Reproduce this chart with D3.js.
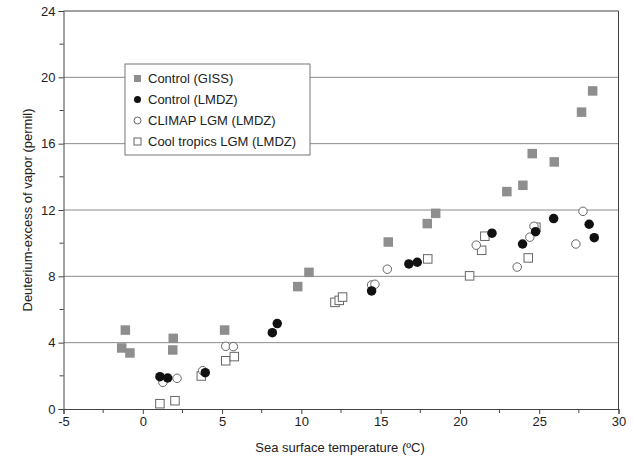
<!DOCTYPE html>
<html>
<head>
<meta charset="utf-8">
<script src="https://cdn.jsdelivr.net/npm/d3@7"></script>
<style>
  body { margin: 0; background: #fff; }
  svg { display: block; font-family: "Liberation Sans", Arial, sans-serif; }
</style>
</head>
<body>
<svg id="chart"></svg>
<script>
// values
let gissX = [-1.33, -1.10, -0.81, 1.89, 1.92, 5.16, 9.77, 10.48, 15.48, 17.94, 18.47, 22.96, 23.97, 24.56, 25.95, 27.67, 28.37]
let gissY = [3.68, 4.76, 3.38, 3.56, 4.26, 4.76, 7.38, 8.24, 10.07, 11.18, 11.80, 13.11, 13.49, 15.40, 14.90, 17.90, 19.18]

let lmdzX = [1.08, 1.57, 3.94, 8.17, 8.48, 14.43, 16.78, 17.31, 22.02, 23.95, 24.77, 25.91, 28.15, 28.47]
let lmdzY = [1.95, 1.87, 2.19, 4.60, 5.15, 7.12, 8.75, 8.85, 10.60, 9.95, 10.69, 11.48, 11.14, 10.33]

let climapX = [1.27, 2.16, 3.78, 5.23, 5.71, 14.43, 14.64, 15.42, 21.03, 23.61, 24.41, 24.67, 27.31, 27.76]
let climapY = [1.61, 1.85, 2.31, 3.78, 3.76, 7.48, 7.52, 8.43, 9.88, 8.56, 10.36, 11.02, 9.95, 11.92]

let coolX = [1.08, 2.03, 3.69, 5.23, 5.77, 12.12, 12.39, 12.60, 17.97, 20.61, 21.37, 21.57, 24.31, 24.79]
let coolY = [0.32, 0.50, 1.99, 2.91, 3.16, 6.43, 6.55, 6.75, 9.05, 8.03, 9.57, 10.42, 9.11, 10.96]

let seriesNames = ['Control (GISS)', 'Control (LMDZ)', 'CLIMAP LGM (LMDZ)', 'Cool tropics LGM (LMDZ)']

let xTicks = [-5, 0, 5, 10, 15, 20, 25, 30]
let xMinor = [-2.5, 2.5, 7.5, 12.5, 17.5, 22.5, 27.5]
let yTicks = [0, 4, 8, 12, 16, 20, 24]
let yMinor = [2, 6, 10, 14, 18, 22]

let xTitle = 'Sea surface temperature (ºC)'
let yTitle = 'Deuterium-excess of vapor (permil)'

let width = 633
let height = 460
let plotLeft = 63.5
let plotRight = 618.5
let plotTop = 11
let plotBottom = 409

let svg = d3.select('#chart')
    .attr('width', width)
    .attr('height', height)

let xScale = d3.scaleLinear().domain([-5, 30]).range([plotLeft, plotRight])
let yScale = d3.scaleLinear().domain([0, 24]).range([plotBottom, plotTop])

let zip = (xs, ys) => xs.map((x, i) => ({x: x, y: ys[i]}))

let series = [
    {name: seriesNames[0], data: zip(gissX, gissY), shape: 'square', fill: '#8e8e8e', stroke: 'none'},
    {name: seriesNames[3], data: zip(coolX, coolY), shape: 'square', fill: '#fff', stroke: '#666'},
    {name: seriesNames[2], data: zip(climapX, climapY), shape: 'circle', fill: '#fff', stroke: '#666'},
    {name: seriesNames[1], data: zip(lmdzX, lmdzY), shape: 'circle', fill: '#111', stroke: 'none'}
]

// horizontal gridlines
svg.append('g')
    .selectAll('line')
    .data(yTicks.filter(d => d > 0 && d < 24))
    .enter()
    .append('line')
    .attr('x1', plotLeft)
    .attr('x2', plotRight)
    .attr('y1', d => yScale(d))
    .attr('y2', d => yScale(d))
    .attr('stroke', '#8a8a8a')
    .attr('stroke-width', 1)

// frame top and right
svg.append('path')
    .attr('d', 'M' + plotLeft + ',' + plotTop + 'H' + plotRight + 'V' + plotBottom)
    .attr('fill', 'none')
    .attr('stroke', '#444')
    .attr('stroke-width', 1)

// axes
let xAxis = d3.axisBottom(xScale).tickValues(xTicks).tickSize(5).tickPadding(3).tickFormat(d => String(d))
let xg = svg.append('g')
    .attr('transform', 'translate(0,' + plotBottom + ')')
    .call(xAxis)
xg.append('g')
    .selectAll('line')
    .data(xMinor)
    .enter()
    .append('line')
    .attr('x1', d => xScale(d))
    .attr('x2', d => xScale(d))
    .attr('y1', 0)
    .attr('y2', 4)
    .attr('stroke', '#444')

let yAxis = d3.axisLeft(yScale).tickValues(yTicks).tickSize(5).tickPadding(3)
let yg = svg.append('g')
    .attr('transform', 'translate(' + plotLeft + ',0)')
    .call(yAxis)
yg.append('g')
    .selectAll('line')
    .data(yMinor)
    .enter()
    .append('line')
    .attr('x1', 0)
    .attr('x2', -4)
    .attr('y1', d => yScale(d))
    .attr('y2', d => yScale(d))
    .attr('stroke', '#444')

svg.selectAll('.domain').attr('stroke', '#444')
svg.selectAll('.tick line').attr('stroke', '#444')
svg.selectAll('.tick text')
    .attr('fill', '#222')
    .style('font-size', '13px')
    .style('font-family', '"Liberation Sans", Arial, sans-serif')

svg.append('text')
    .attr('x', 340)
    .attr('y', 452)
    .attr('text-anchor', 'middle')
    .attr('fill', '#222')
    .style('font-size', '13px')
    .text(xTitle)

svg.append('text')
    .attr('transform', 'translate(32,' + ((plotTop + plotBottom) / 2) + ') rotate(-90)')
    .attr('text-anchor', 'middle')
    .attr('fill', '#222')
    .style('font-size', '13px')
    .text(yTitle)

// markers
let drawMarker = (g, s, size) => {
    if (s.shape === 'square') {
        g.append('rect')
            .attr('x', -size / 2)
            .attr('y', -size / 2)
            .attr('width', size)
            .attr('height', size)
            .attr('fill', s.fill)
            .attr('stroke', s.stroke)
    } else {
        g.append('circle')
            .attr('r', size / 2)
            .attr('fill', s.fill)
            .attr('stroke', s.stroke)
    }
}

series.forEach(s => {
    let size = s.stroke === 'none' ? 9.5 : 8.5
    svg.append('g')
        .selectAll('g')
        .data(s.data)
        .enter()
        .append('g')
        .attr('transform', d => 'translate(' + xScale(d.x) + ',' + yScale(d.y) + ')')
        .each(function() { drawMarker(d3.select(this), s, size) })
})

// legend
let legendOrder = [series[0], series[3], series[2], series[1]]
let legend = svg.append('g').attr('transform', 'translate(125,64)')
legend.append('rect')
    .attr('width', 185)
    .attr('height', 91)
    .attr('fill', '#fff')
    .attr('stroke', '#777')
    .attr('stroke-width', 1)

legendOrder.forEach((s, i) => {
    let row = legend.append('g').attr('transform', 'translate(0,' + (14.5 + i * 21) + ')')
    let m = row.append('g').attr('transform', 'translate(12.5,0)')
    drawMarker(m, s, 7)
    row.append('text')
        .attr('x', 23)
        .attr('y', 4.5)
        .attr('fill', '#222')
        .style('font-size', '13px')
        .text(s.name)
})
</script>
</body>
</html>
